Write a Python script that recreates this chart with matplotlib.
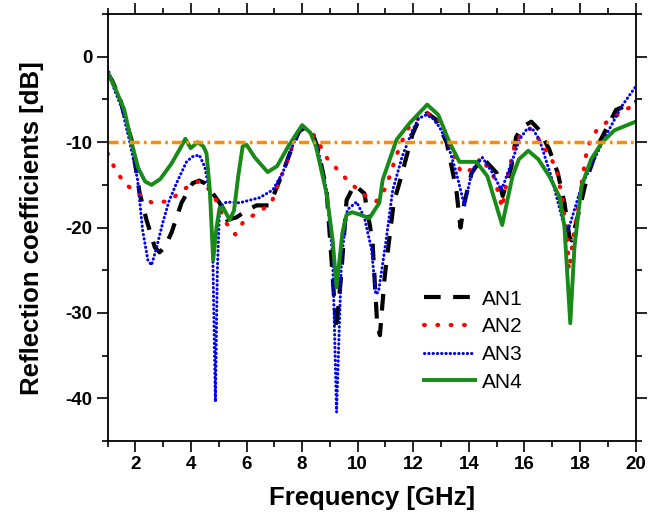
import matplotlib
matplotlib.use('Agg')
import matplotlib.pyplot as plt
from matplotlib.ticker import MultipleLocator

# frequency [GHz] / reflection coefficient [dB]
f_an1 = [1.0, 1.15, 1.43, 1.72, 1.86, 2.15, 2.4, 2.7, 2.87, 3.05, 3.3, 3.66, 4.06, 4.3, 4.5,
         4.74, 5.03, 5.3, 5.64, 6.0, 6.36, 6.8, 7.0, 7.3, 7.65, 7.9, 8.16, 8.35, 8.55, 8.88,
         9.05, 9.23, 9.4, 9.6, 9.88, 10.24, 10.53, 10.7, 10.8, 10.97, 11.15, 11.3, 11.5, 11.97,
         12.2, 12.5, 12.8, 13.2, 13.55, 13.7, 13.84, 14.1, 14.49, 15.0, 15.22, 15.53, 15.7,
         15.93, 16.25, 16.54, 16.9, 17.2, 17.44, 17.62, 17.7, 17.98, 18.23, 18.7, 19.3, 20.0]
s_an1 = [-2.0, -2.7, -4.7, -8.2, -9.7, -15.9, -19.1, -22.3, -22.9, -22.3, -20.6, -17.1, -14.8,
         -14.5, -14.8, -15.8, -17.1, -19.1, -18.8, -18.0, -17.4, -17.4, -16.0, -13.6, -10.5,
         -8.7, -8.2, -8.8, -10.5, -15.6, -23.4, -32.0, -25.8, -16.8, -15.0, -16.0, -21.5,
         -31.2, -32.6, -25.8, -21.0, -17.0, -14.8, -9.1, -7.4, -6.6, -7.3, -10.0, -15.6, -20.0,
         -17.1, -13.6, -11.8, -13.6, -16.3, -12.9, -9.4, -8.2, -7.6, -8.6, -10.9, -13.6, -17.1,
         -21.1, -21.5, -17.9, -14.4, -10.0, -6.2, -5.3]

f_an2 = [1.0, 1.25, 1.6, 2.08, 2.6, 3.22, 3.7, 4.06, 4.3, 4.6, 4.96, 5.2, 5.5, 5.6, 5.93, 6.4,
         6.9, 7.1, 7.3, 7.55, 7.8, 8.0, 8.25, 8.5, 8.88, 9.27, 9.7, 10.17, 10.5, 10.68, 11.0,
         11.2, 11.4, 11.76, 12.3, 12.84, 13.12, 13.37, 13.73, 14.1, 14.45, 14.92, 15.2, 15.4,
         15.7, 16.2, 16.6, 17.15, 17.37, 17.55, 17.6, 17.8, 17.98, 18.27, 18.6, 19.06, 19.5, 20.0]
s_an2 = [-11.3, -13.0, -14.8, -16.0, -17.1, -16.9, -15.6, -14.9, -14.6, -15.3, -17.1, -19.1,
         -20.6, -20.8, -19.1, -18.3, -17.1, -15.2, -13.6, -11.5, -9.0, -8.2, -8.5, -9.5, -11.8,
         -13.2, -14.7, -16.0, -16.8, -16.9, -15.4, -13.5, -11.5, -8.6, -6.6, -6.9, -8.6, -10.9,
         -13.6, -13.2, -11.8, -14.2, -17.7, -13.9, -9.7, -8.4, -10.0, -13.0, -16.8, -21.8,
         -25.0, -20.3, -16.4, -10.5, -8.6, -7.4, -6.5, -5.5]

f_an3 = [1.0, 1.25, 1.5, 1.72, 1.8, 2.08, 2.26, 2.45, 2.58, 2.75, 2.98, 3.2, 3.48, 3.84, 4.05,
         4.3, 4.5, 4.68, 4.78, 4.88, 4.95, 5.03, 5.28, 5.75, 6.1, 6.47, 6.94, 7.3, 7.65, 7.85,
         8.09, 8.3, 8.55, 8.88, 9.1, 9.24, 9.42, 9.63, 9.96, 10.24, 10.5, 10.65, 10.75, 10.9,
         11.0, 11.26, 11.6, 11.97, 12.2, 12.47, 12.7, 12.94, 13.23, 13.55, 13.84, 14.13, 14.49,
         14.85, 15.17, 15.3, 15.57, 15.82, 16.1, 16.3, 16.54, 17.0, 17.37, 17.55, 17.8, 18.05,
         18.45, 18.95, 19.5, 20.0]
s_an3 = [-1.3, -3.9, -5.9, -8.9, -10.0, -14.4, -20.3, -23.8, -24.4, -22.5, -19.5, -17.0, -14.8,
         -12.3, -11.7, -11.5, -12.9, -16.0, -22.0, -40.4, -25.0, -17.6, -17.0, -17.1, -16.8,
         -16.5, -15.6, -13.6, -10.5, -8.9, -8.3, -8.9, -10.5, -15.6, -23.4, -41.6, -23.4, -17.9,
         -17.0, -18.8, -22.6, -27.8, -27.5, -24.2, -22.0, -15.6, -11.7, -8.6, -7.2, -6.8, -7.2,
         -8.2, -10.1, -13.6, -17.4, -13.2, -11.8, -13.6, -15.6, -14.5, -12.1, -9.7, -8.4, -8.5,
         -9.7, -14.4, -19.1, -20.6, -17.9, -15.2, -12.4, -9.1, -5.8, -3.5]

f_an4 = [1.0, 1.25, 1.6, 1.86, 2.1, 2.35, 2.58, 2.9, 3.3, 3.6, 3.8, 3.99, 4.24, 4.45, 4.56,
         4.68, 4.8, 4.92, 5.03, 5.15, 5.39, 5.55, 5.7, 5.86, 6.0, 6.3, 6.76, 7.1, 7.5, 8.0, 8.3,
         8.5, 8.88, 9.1, 9.24, 9.45, 9.6, 9.8, 10.1, 10.42, 10.78, 10.9, 11.4, 11.86, 12.5, 12.9,
         13.3, 13.66, 14.27, 14.67, 15.2, 15.57, 15.8, 16.14, 16.5, 16.9, 17.26, 17.44, 17.65,
         17.8, 18.05, 18.4, 18.8, 19.24, 20.0]
s_an4 = [-1.8, -3.5, -6.2, -10.0, -13.0, -14.6, -15.0, -14.3, -12.5, -10.8, -9.6, -10.7, -10.0,
         -10.5, -11.3, -15.6, -23.8, -20.0, -17.7, -17.6, -19.1, -18.0, -14.0, -10.5, -10.3,
         -11.8, -13.5, -12.8, -10.5, -8.0, -8.9, -10.5, -16.0, -21.5, -27.0, -20.6, -18.5,
         -18.2, -18.5, -18.9, -17.1, -14.4, -9.7, -7.8, -5.6, -6.8, -10.0, -12.3, -12.3, -14.0,
         -19.7, -14.0, -12.0, -11.0, -12.0, -14.0, -16.4, -19.9, -31.2, -22.3, -15.2, -12.0,
         -10.0, -8.6, -7.6]

ref_level = -10
ref_span = [1.0, 19.9]

plt.rcParams['font.family'] = ['Liberation Sans', 'DejaVu Sans']
plt.rcParams['axes.unicode_minus'] = False

fig = plt.figure(figsize=(6.6, 5.22), dpi=100)
ax = fig.add_axes([0.163, 0.155, 0.8, 0.818])

ax.plot(f_an1, s_an1, color='black', lw=3, dashes=(4, 3), label='AN1')
ax.plot(f_an2, s_an2, color='#ff0000', lw=3, dashes=(0.2, 3.0), dash_capstyle='round', label='AN2')
ax.plot(f_an3, s_an3, color='#0000ff', lw=2.2, dashes=(0.1, 1.3), dash_capstyle='round', label='AN3')
ax.plot(f_an4, s_an4, color='#178a17', lw=2.8, label='AN4')
ax.plot(ref_span, [ref_level, ref_level], color='#ff8c00', lw=2.5, dashes=(2.9, 1.2, 0.8, 1.2))

ax.set_xlim(1, 20)
ax.set_ylim(-45, 5)
ax.xaxis.set_minor_locator(MultipleLocator(1))
ax.yaxis.set_major_locator(MultipleLocator(10))
ax.yaxis.set_minor_locator(MultipleLocator(5))
ax.set_xticks(range(2, 21, 2))
ax.tick_params(which='both', direction='out', top=True, right=True, width=1.2)
ax.tick_params(which='major', length=8, labelsize=13.5, pad=3)
ax.tick_params(which='minor', length=4)
for lab in ax.get_xticklabels() + ax.get_yticklabels():
    lab.set_fontweight('bold')
for sp in ax.spines.values():
    sp.set_linewidth(1.3)

ax.set_xlabel('Frequency [GHz]', fontsize=18.5, fontweight='bold', labelpad=9)
ax.set_ylabel('Reflection coefficients [dB]', fontsize=18.5, fontweight='bold', labelpad=15)

ax.legend(loc='upper left', bbox_to_anchor=(0.6, 0.355), frameon=False, fontsize=15,
          handlelength=2.45, handletextpad=0.3, labelspacing=0.42, borderpad=0, borderaxespad=0)

fig.savefig('out.png', dpi=100)
